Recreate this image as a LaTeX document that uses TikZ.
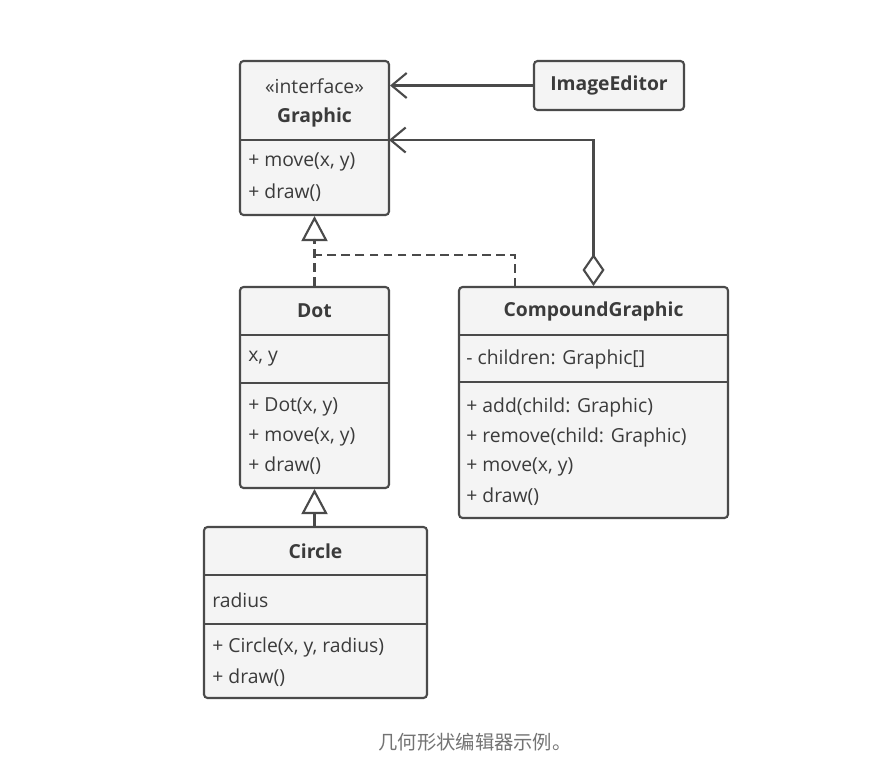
\documentclass[tikz,border=0pt]{standalone}
\usepackage{fontspec}
\setmainfont{Open Sans}
\newfontfamily\cjk{Noto Sans CJK SC}
\usetikzlibrary{arrows.meta}
\definecolor{umlline}{HTML}{4A4A4A}
\definecolor{umlfill}{HTML}{F4F4F4}
\begin{document}
\begin{tikzpicture}[
    x=0.02cm, y=-0.02cm,
    % Define styles
    box/.style={
        rectangle,
        draw=umlline,
        fill=umlfill,
        line width=1.2pt,
        rounded corners=2pt
    },
    divider/.style={
        draw=umlline,
        line width=1.2pt
    },
    member/.style={
        anchor=west,
        inner sep=0pt,
        text=umlline!80!black,
        font=\fontsize{11}{13}\selectfont
    },
    title/.style={
        inner sep=0pt,
        text=umlline!80!black,
        font=\fontsize{11}{13}\selectfont\bfseries
    },
    link/.style={
        draw=umlline,
        line width=1.2pt
    },
    assoc/.style={
        link,
        -{Straight Barb[length=0.3cm, width=0.5cm, line width=1.2pt]}
    },
    realize/.style={
        link,
        dashed,
        dash pattern=on 5pt off 3pt,
        -{Triangle[open, fill=white, length=0.5cm, width=0.52cm, line width=1.2pt]}
    },
    inherit/.style={
        link,
        -{Triangle[open, fill=white, length=0.5cm, width=0.52cm, line width=1.2pt]}
    },
    aggregate/.style={
        link,
        {Diamond[open, fill=white, length=0.64cm, width=0.44cm, line width=1.2pt]}-{Straight Barb[length=0.3cm, width=0.5cm, line width=1.2pt]}
    }
]

\useasboundingbox (0,0) rectangle (893,782);

% Graphic interface
\node[box, minimum width=2.98cm, minimum height=3.08cm] (graphic) at (314.5,138) {};
\draw[divider] (240,140) -- (389,140);
\node[member, anchor=center] (graphicst) at (314.5,86) {«interface»};
\node[title] (graphicname) at (314.5,117) {Graphic};
\node[member] (graphicm1) at (248,162) {+ move(x, y)};
\node[member] (graphicm2) at (248,193) {+ draw()};

% ImageEditor
\node[box, minimum width=3.0cm, minimum height=0.98cm] (editor) at (609,85.5) {};
\node[title] (editorname) at (609,85.5) {ImageEditor};

% Dot
\node[box, minimum width=2.98cm, minimum height=4.02cm] (dot) at (314.5,387.5) {};
\draw[divider] (240,335) -- (389,335);
\draw[divider] (240,383) -- (389,383);
\node[title] (dotname) at (314.5,311) {Dot};
\node[member] (dotf1) at (248,359) {x, y};
\node[member] (dotm1) at (248,407) {+ Dot(x, y)};
\node[member] (dotm2) at (248,437) {+ move(x, y)};
\node[member] (dotm3) at (248,466) {+ draw()};

% CompoundGraphic
\node[box, minimum width=5.38cm, minimum height=4.62cm] (compound) at (593.5,402.5) {};
\draw[divider] (459,335) -- (728,335);
\draw[divider] (459,382) -- (728,382);
\node[title] (compoundname) at (593.5,311) {CompoundGraphic};
\node[member] (compoundf1) at (466,359) {- children: Graphic[]};
\node[member] (compoundm1) at (466,407) {+ add(child: Graphic)};
\node[member] (compoundm2) at (466,437) {+ remove(child: Graphic)};
\node[member] (compoundm3) at (466,467) {+ move(x, y)};
\node[member] (compoundm4) at (466,497) {+ draw()};

% Circle
\node[box, minimum width=4.46cm, minimum height=3.42cm] (circle) at (315.5,612.5) {};
\draw[divider] (204,575) -- (427,575);
\draw[divider] (204,624) -- (427,624);
\node[title] (circlename) at (315.5,551) {Circle};
\node[member] (circlef1) at (212,600) {radius};
\node[member] (circlem1) at (212,647) {+ Circle(x, y, radius)};
\node[member] (circlem2) at (212,678) {+ draw()};

% Connectors
\coordinate (graphicin) at (389,140);
\coordinate (compoundjoin) at (515,287);
\coordinate (realizejoin) at (314.5,255);
\draw[assoc] (editor.west) -- (editor.west -| graphic.east);
\draw[aggregate] (compound.north) |- (graphicin);
\draw[link, dashed, dash pattern=on 5pt off 3pt] (compoundjoin) |- (realizejoin);
\draw[realize] (dot.north) -- (graphic.south);
\draw[inherit] (circle.north -| dot.south) -- (dot.south);

% Caption
\node[font=\cjk\fontsize{11}{13}\selectfont, text=black!55] (caption) at (475,742) {几何形状编辑器示例。};
\end{tikzpicture}
\end{document}
